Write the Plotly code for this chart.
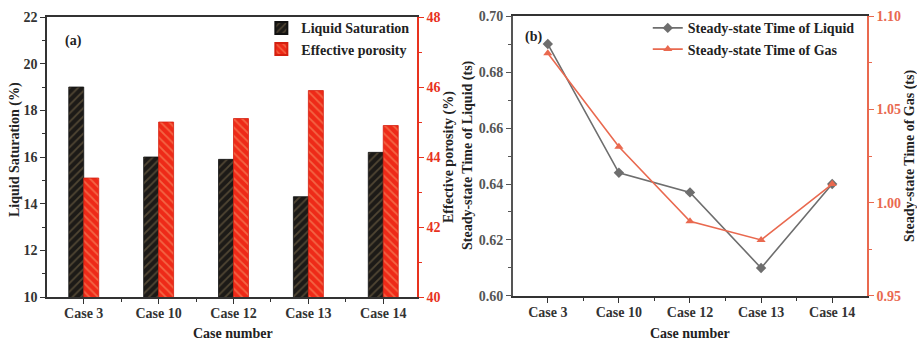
import plotly.graph_objects as go

# ---- data ----
cases = ["Case 3", "Case 10", "Case 12", "Case 13", "Case 14"]
liquid_saturation = [19.0, 16.0, 15.9, 14.3, 16.2]          # %
effective_porosity = [43.4, 45.0, 45.1, 45.9, 44.9]         # %
t_liquid = [0.690, 0.644, 0.637, 0.610, 0.640]              # ts
t_gas = [1.080, 1.030, 0.990, 0.980, 1.010]                 # ts

xpos = list(range(len(cases)))
minor_x = [i + 0.5 for i in range(-1, len(cases))]

FONT = "Liberation Serif"
RED = "#e8321e"
ORANGE = "#e9694f"
GRAY = "#6e6e6e"

fig = go.Figure()

# ---- panel (a): grouped hatched bars on twin y axes ----
fig.add_trace(go.Bar(
    x=xpos, y=liquid_saturation, name="Liquid Saturation",
    xaxis="x", yaxis="y", width=0.2, offset=-0.2,
    marker=dict(color="#1c1a17", line=dict(color="#111111", width=0.8),
                pattern=dict(shape="/", fgcolor="#857250", bgcolor="#1c1a17",
                             size=6, solidity=0.3)),
    legend="legend",
))
fig.add_trace(go.Bar(
    x=xpos, y=effective_porosity, name="Effective porosity",
    xaxis="x", yaxis="y2", width=0.2, offset=0.0,
    marker=dict(color="#ee2a18", line=dict(color="#d42010", width=0.8),
                pattern=dict(shape="\\", fgcolor="#f8a070", bgcolor="#ee2a18",
                             size=6, solidity=0.3)),
    legend="legend",
))

# ---- panel (b): steady-state times on twin y axes ----
fig.add_trace(go.Scatter(
    x=xpos, y=t_liquid, name="Steady-state Time of Liquid",
    xaxis="x2", yaxis="y3", mode="lines+markers",
    line=dict(color=GRAY, width=1.6),
    marker=dict(symbol="diamond", size=8, color=GRAY),
    legend="legend2",
))
fig.add_trace(go.Scatter(
    x=xpos, y=t_gas, name="Steady-state Time of Gas",
    xaxis="x2", yaxis="y4", mode="lines+markers",
    line=dict(color=ORANGE, width=1.6),
    marker=dict(symbol="triangle-up", size=8, color=ORANGE),
    legend="legend2",
))

tickfont = dict(family=FONT, size=14, color="#333333", weight="bold")

def xaxis_cfg(domain, anchor, rng):
    return dict(
        domain=domain, anchor=anchor, range=rng, automargin=False,
        tickvals=xpos, ticktext=cases, ticks="outside", ticklen=5,
        tickwidth=1.2, tickcolor="#333333", ticklabelstandoff=-3,
        minor=dict(tickvals=minor_x, ticks="outside", ticklen=3,
                   tickwidth=1.2, tickcolor="#333333"),
        showline=True, linecolor="#333333", linewidth=1.6, mirror=True,
        showgrid=False, zeroline=False, tickfont=tickfont,
    )

def yaxis_cfg(domain, anchor, rng, dtick, minor_dtick, color, side="left",
              overlaying=None, fmt=None):
    cfg = dict(
        domain=domain, anchor=anchor, range=rng, side=side, automargin=False,
        dtick=dtick, tick0=rng[0], ticks="outside", ticklen=5,
        tickwidth=1.2, tickcolor=color,
        minor=dict(dtick=minor_dtick, ticks="outside", ticklen=3,
                   tickwidth=1.2, tickcolor=color),
        showline=True, linecolor=color, linewidth=1.6,
        showgrid=False, zeroline=False,
        tickfont=dict(family=FONT, size=14, color=color, weight="bold"),
    )
    if overlaying:
        cfg["overlaying"] = overlaying
    if fmt:
        cfg["tickformat"] = fmt
    return cfg

legend_font = dict(family=FONT, size=14, color="#222222", weight="bold")

ydom = [0.129, 0.950]
fig.update_layout(
    width=917, height=341,
    margin=dict(l=0, r=0, t=0, b=0, autoexpand=False),
    paper_bgcolor="white", plot_bgcolor="white",
    font=dict(family=FONT, size=14, color="#222222"),
    xaxis=xaxis_cfg([0.0513, 0.4547], "y", [-0.49, 4.45]),
    yaxis=yaxis_cfg(ydom, "x", [10, 22], 2, 1, "#333333"),
    yaxis2=yaxis_cfg(ydom, "x", [40, 48], 2, 1, RED, side="right",
                     overlaying="y"),
    xaxis2=xaxis_cfg([0.5594, 0.9455], "y3", [-0.49, 4.49]),
    yaxis3=yaxis_cfg([0.132, 0.953], "x2", [0.60, 0.70], 0.02, 0.01,
                     "#555555", fmt=".2f"),
    yaxis4=yaxis_cfg([0.132, 0.953], "x2", [0.95, 1.10], 0.05, 0.025,
                     ORANGE, side="right", overlaying="y3", fmt=".2f"),
    legend=dict(x=0.285, y=0.964, xanchor="left", yanchor="top",
                bgcolor="rgba(0,0,0,0)", tracegroupgap=0,
                font=legend_font, itemsizing="constant"),
    legend2=dict(x=0.7064, y=0.964, xanchor="left", yanchor="top",
                 bgcolor="rgba(0,0,0,0)", tracegroupgap=0,
                 font=legend_font),
    showlegend=True,
)

def label(text, x, y, angle=0, size=14):
    fig.add_annotation(text=f"<b>{text}</b>", x=x / 917, y=1 - y / 341,
                       xref="paper", yref="paper", showarrow=False,
                       textangle=angle, xanchor="center", yanchor="middle",
                       font=dict(family=FONT, size=size, color="#222222"))

# axis titles and panel tags
label("Liquid Saturation (%)", 15, 150, -90)
label("Effective porosity (%)", 449, 157, -90)
label("Case number", 233, 333)
label("(a)", 73, 41)
label("Steady-state Time of Liquid (ts)", 468, 155, -90)
label("Steady-state Time of Gas (ts)", 910, 156, -90)
label("Case number", 690, 333)
label("(b)", 533, 37)

fig.write_html("out.html")
